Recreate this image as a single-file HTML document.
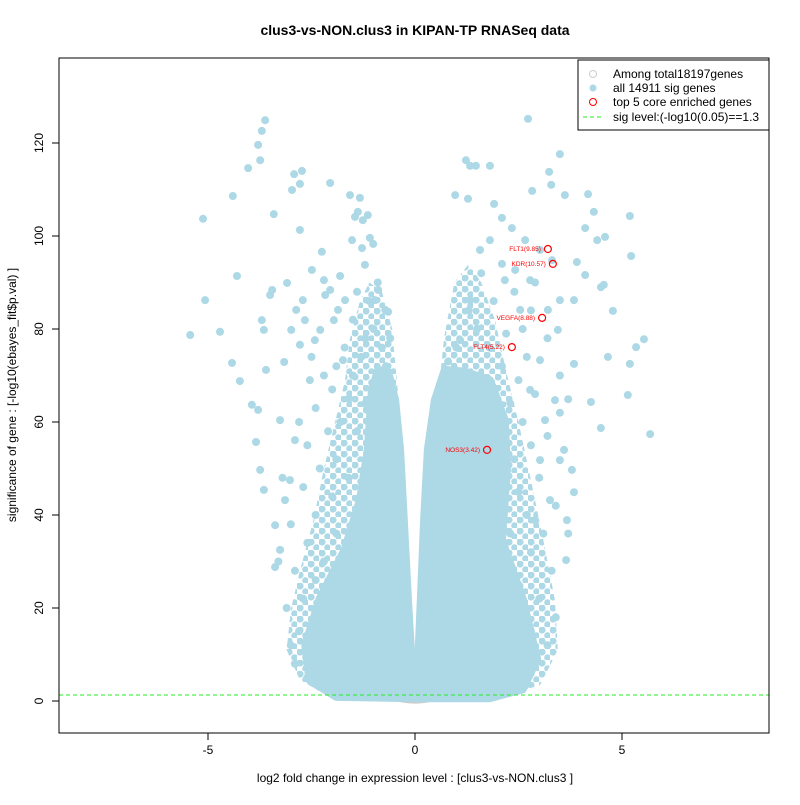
<!DOCTYPE html>
<html><head><meta charset="utf-8"><style>
body{margin:0;background:#fff;font-family:"Liberation Sans",sans-serif}
svg text{font-family:"Liberation Sans",sans-serif}
</style></head><body>
<svg id="chart" width="800" height="800" viewBox="0 0 800 800" xmlns="http://www.w3.org/2000/svg">
<defs>
<pattern id="stip" width="11" height="11" patternUnits="userSpaceOnUse">
<circle cx="3" cy="3" r="3.6" fill="#add8e6"/>
<circle cx="8.5" cy="8.5" r="3.3" fill="#add8e6"/>
</pattern>
</defs>
<rect width="800" height="800" fill="#fff"/>
<text x="415" y="35" font-size="14" font-weight="bold" text-anchor="middle">clus3-vs-NON.clus3 in KIPAN-TP RNASeq data</text>
<g id="cloud"></g>
<g id="pts"></g>
<g id="hl"></g>
<g id="axes"></g>
<rect x="59" y="58" width="710" height="675" fill="none" stroke="#000"/>
<text x="415" y="782" font-size="12" text-anchor="middle">log2 fold change in expression level : [clus3-vs-NON.clus3 ]</text>
<text transform="translate(16,395) rotate(-90)" font-size="12" text-anchor="middle">significance of gene : [-log10(ebayes_fit$p.val) ]</text>
<g>
<rect x="578" y="60" width="191" height="70" fill="#fff" stroke="#000"/>
<circle cx="593" cy="74" r="3.5" fill="none" stroke="#ccc"/>
<text x="613" y="78" font-size="12">Among total18197genes</text>
<circle cx="593" cy="88" r="3.5" fill="#add8e6"/>
<text x="613" y="92" font-size="12">all 14911 sig genes</text>
<circle cx="593" cy="102" r="3.5" fill="none" stroke="red"/>
<text x="613" y="106" font-size="12">top 5 core enriched genes</text>
<line x1="583" y1="117" x2="603" y2="117" stroke="#22ee22" stroke-dasharray="4,3"/>
<text x="613" y="121" font-size="12">sig level:(-log10(0.05)==1.3</text>
</g>
</svg>
<script>
const xTicks=[-5,0,5];
const yTicks=[0,20,40,60,80,100,120];
const sigLevel=1.3;
const ptX=[-5.43,-5.12,-5.07,-4.71,-4.40,-4.30,-4.42,-4.23,-4.03,-3.79,-3.74,-3.62,-3.70,-3.94,-3.79,-3.84,-3.74,-3.65,-3.50,-3.45,-3.41,-3.70,-3.65,-3.60,-3.38,-3.38,-3.26,-3.26,-3.16,-3.09,-2.97,-2.92,-2.73,-2.78,-2.87,-2.99,-2.78,-2.71,-2.66,-2.90,-3.02,-3.14,-2.78,-2.25,-2.20,-2.05,-2.17,-2.05,-2.49,-2.42,-2.29,-2.54,-1.81,-1.57,-1.52,-1.45,-1.38,-1.33,-1.26,-1.14,-1.09,-1.01,-1.28,-1.21,-1.69,-1.86,-1.74,-1.96,-0.97,-0.89,-0.72,-0.65,
1.23,1.33,1.47,1.81,1.28,0.97,1.91,2.73,2.83,3.24,3.50,3.29,3.62,4.18,4.32,4.11,4.40,4.59,5.19,5.22,4.78,4.49,4.56,5.34,5.19,4.66,5.53,5.68,5.14,4.49,4.25,3.84,3.70,3.79,3.84,3.67,3.65,3.50,4.11,3.91,3.84,3.50,3.31,3.02,2.66,2.34,2.10,2.42,2.78,3.21,3.45,2.54,2.17,3.02,3.38,3.14,2.78,3.02,3.26,2.90,1.57,1.81,1.33,1.09,
-2.9,-2.6,-2.3,-2.5,-2.8,-3.1,-2.7,-2.3,-2.1,-2.4,-2.9,-2.2,-2.6,-3.0,-2.4,-2.0,-2.7,-2.3,-1.9,-2.6,-2.1,-1.8,-2.4,-1.6,-2.0,-1.5,-1.9,-1.3,-1.7,-1.2,-1.0,-1.5,-0.8,-0.7,-2.8,-3.2,-3.3,-3.0,-1.9,-1.7,-2.0,-1.6,-1.4,-1.2,-2.2,-2.5,-0.6,-1.1,-0.9,-1.4,
2.2,2.6,2.9,3.2,2.8,2.4,3.4,3.0,2.5,3.3,2.8,2.3,3.1,2.7,3.4,2.5,3.0,2.4,2.8,3.2,2.6,2.3,2.9,2.5,2.1,2.7,1.8,2.2,1.5,2.6,1.3,1.9,2.4,1.6,2.1,2.9,3.6,3.7,3.5,1.0,0.8,2.0,2.2,2.4,2.0,2.2,2.1,3.5,3.2,2.8];
const ptY=[78.7,103.7,86.2,79.4,108.6,91.4,72.7,68.8,114.6,119.6,116.3,124.9,122.6,63.7,62.6,55.7,49.7,45.4,87.3,88.4,104.7,81.9,79.8,71.2,37.8,28.8,32.5,60.4,72.9,89.9,109.9,113.3,114.0,101.3,84.1,79.8,76.6,86.2,81.9,56.1,47.5,43.2,111.2,96.6,90.5,111.4,87.3,88.4,92.7,77.6,79.8,69.0,91.4,108.8,99.1,104.1,105.2,108.2,103.4,104.5,99.6,98.3,97.4,93.8,86.2,84.1,73.3,81.9,86.2,88.4,84.1,83.7,
116.3,115.1,115.1,115.1,108.0,108.8,106.9,125.2,109.7,113.8,117.6,111.0,108.8,109.0,105.2,101.7,99.1,99.8,104.3,95.7,83.9,89.0,89.5,76.1,72.5,74.0,77.8,57.4,65.8,58.7,64.3,72.5,64.9,49.7,44.9,38.9,30.3,51.8,91.6,94.4,86.2,86.2,94.8,97.0,99.1,101.7,103.9,92.7,90.5,84.1,79.8,84.1,90.5,73.3,64.7,60.4,66.9,51.8,43.2,38.9,97.0,99.1,86.2,77.6,
8,5,3,12,15,20,22,18,10,26,28,30,34,38,40,44,46,50,52,55,58,60,63,65,67,70,72,74,76,78,80,82,76,72,60,48,30,12,36,26,16,48,58,64,70,74,78,86,90,88,
3,5,8,12,15,12,18,22,25,28,32,36,36,40,42,45,48,52,55,57,60,64,66,69,72,74,76,79,80,80,84,86,88,92,94,90,54,36,62,76,73,62,58,16,20,28,45,70,78,84];
const leftArmX=[-0.07,-1.9,-2.55,-2.65,-2.3,-1.7,-1.33,-1.14,-1.09,-1.04,-0.89,-0.65,-0.48,-0.36,-0.27,-0.17,-0.07];
const leftArmY=[0.6,0.9,4.5,12,22,32.5,43.2,54,60.4,66.9,71.2,70.8,64.7,54,38.9,21.7,6.7];
const rightArmX=[0.07,0.14,0.22,0.31,0.48,0.72,1.21,1.81,2.17,2.22,2.1,2.6,2.95,2.6,1.8,0.07];
const rightArmY=[6.7,21.7,38.9,54,64.7,71.2,70.8,69,60.4,49.7,34.6,22,9,2.5,0.6,0.6];
const leftHaloX=[-0.2,-2.05,-2.78,-3.1,-3.0,-2.78,-2.45,-2.2,-1.93,-1.69,-1.57,-1.33,-1.1,-0.8,-0.55,-0.4,-0.2];
const leftHaloY=[0,0.9,4.5,11,19.6,28,39,50,60,69,78,86,90,88,80,65,30];
const rightHaloX=[0.2,2.05,3.02,3.45,3.38,3.1,2.8,2.5,2.2,1.93,1.6,1.3,0.95,0.7,0.5,0.35];
const rightHaloY=[0,0.9,3.4,11,21.7,34.6,47.5,60,71,82,90,94,90,78,60,30];
const geneNames=["FLT1(9.85)","KDR(10.57)","VEGFA(8.88)","FLT4(5.22)","NOS3(3.42)"];
const geneX=[3.21,3.33,3.07,2.34,1.74];
const geneY=[97.2,94.0,82.4,76.1,54.0];

const NS="http://www.w3.org/2000/svg";
const sx=v=>415+v*41.4, sy=v=>701-v*4.65;
function mk(t,a,p){const e=document.createElementNS(NS,t);for(const k in a)e.setAttribute(k,a[k]);p.appendChild(e);return e;}
const cloud=document.getElementById('cloud');
const ns=mk('ellipse',{cx:sx(0),cy:sy(0.2),rx:18,ry:3.5,fill:'#ccc'},cloud);


const h1=mk('polygon',{points:leftHaloX.map((x,i)=>sx(x)+','+sy(leftHaloY[i])).join(' '),fill:'url(#stip)'},cloud);


const h2=mk('polygon',{points:rightHaloX.map((x,i)=>sx(x)+','+sy(rightHaloY[i])).join(' '),fill:'url(#stip)'},cloud);


const g1=mk('polygon',{points:leftArmX.map((x,i)=>sx(x)+','+sy(leftArmY[i])).join(' '),fill:'#add8e6',stroke:'#add8e6','stroke-width':8,'stroke-linejoin':'round'},cloud);


const g2=mk('polygon',{points:rightArmX.map((x,i)=>sx(x)+','+sy(rightArmY[i])).join(' '),fill:'#add8e6',stroke:'#add8e6','stroke-width':8,'stroke-linejoin':'round'},cloud);


const pts=document.getElementById('pts');
ptX.forEach((x,i)=>{const c=mk('circle',{cx:sx(x),cy:sy(ptY[i]),r:4,fill:'#add8e6'},pts);

});
const hl=document.getElementById('hl');
geneX.forEach((x,i)=>{const c=mk('circle',{cx:sx(x),cy:sy(geneY[i]),r:3.5,fill:'none',stroke:'red','stroke-width':1.2},hl);


const t=mk('text',{x:sx(x)-7,y:sy(geneY[i])+2,'font-size':6.5,fill:'red','text-anchor':'end'},hl);t.textContent=geneNames[i];

});
const ax=document.getElementById('axes');
const sl=mk('line',{x1:59,x2:769,y1:sy(sigLevel),y2:sy(sigLevel),stroke:'#22ee22','stroke-dasharray':'4,3'},ax);


xTicks.forEach(v=>{mk('line',{x1:sx(v),x2:sx(v),y1:733,y2:740,stroke:'#000'},ax);
const t=mk('text',{x:sx(v),y:754,'font-size':12,'text-anchor':'middle'},ax);t.textContent=v;

});
yTicks.forEach(v=>{mk('line',{x1:52,x2:59,y1:sy(v),y2:sy(v),stroke:'#000'},ax);
const t=mk('text',{transform:`translate(43,${sy(v)}) rotate(-90)`,'font-size':12,'text-anchor':'middle'},ax);t.textContent=v;

});
</script>
</body></html>
